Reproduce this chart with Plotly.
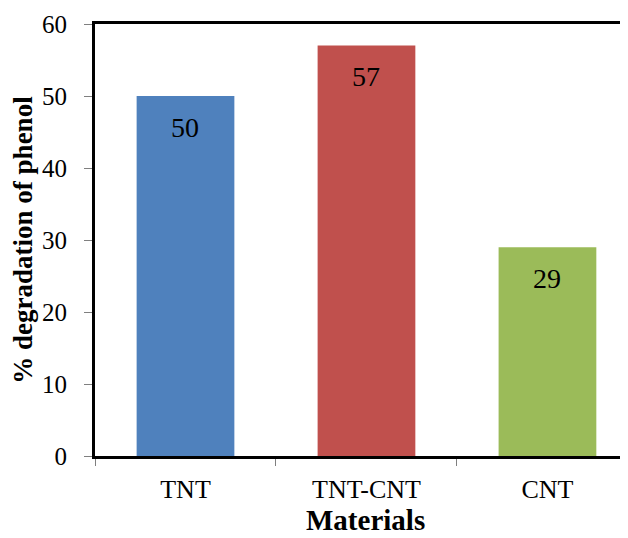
import plotly.graph_objects as go

categories = ["TNT", "TNT-CNT", "CNT"]
values = [50, 57, 29]
colors = ["#4F81BD", "#C0504D", "#9BBB59"]
y_ticks = [0, 10, 20, 30, 40, 50, 60]
x_title = "Materials"
y_title = "% degradation of phenol"

FONT = "Times New Roman, Liberation Serif, serif"

fig = go.Figure()
fig.add_trace(go.Bar(
    x=categories, y=values, marker_color=colors, marker_line_width=0,
    width=0.54, showlegend=False, hoverinfo="skip",
))

for c, v in zip(categories, values):
    fig.add_annotation(x=c, y=v, text=str(v), showarrow=False, yshift=-31,
                       font=dict(family=FONT, size=28, color="black"))

fig.add_annotation(x=0.507, y=-0.149, xref="paper", yref="paper",
                   xanchor="center", yanchor="middle", showarrow=False,
                   text=f"<b>{x_title}</b>",
                   font=dict(family=FONT, size=29, color="black"))

fig.update_layout(
    width=620, height=530,
    margin=dict(l=87, r=0, t=16, b=82),
    paper_bgcolor="white", plot_bgcolor="white",
    font=dict(family=FONT, color="black"),
)
fig.update_xaxes(
    range=[-0.5, 2.445], automargin=False,
    showline=True, linecolor="black", linewidth=3, mirror=True,
    ticks="outside", tickson="boundaries", ticklen=7, tickcolor="#7f7f7f", tickwidth=1,
    tickfont=dict(family=FONT, size=26, color="black"),
    ticklabelstandoff=8,
    showgrid=False, zeroline=False,
)
fig.update_yaxes(
    range=[0, 60], tickvals=y_ticks, automargin=False,
    showline=True, linecolor="black", linewidth=3, mirror=False,
    ticks="outside", ticklen=8, tickcolor="#7f7f7f", tickwidth=1,
    tickfont=dict(family=FONT, size=25, color="black"),
    ticklabelstandoff=12,
    showgrid=False, zeroline=False,
    title=dict(text=f"<b>{y_title}</b>", font=dict(family=FONT, size=27, color="black"), standoff=4),
)

fig.write_html("out.html")
